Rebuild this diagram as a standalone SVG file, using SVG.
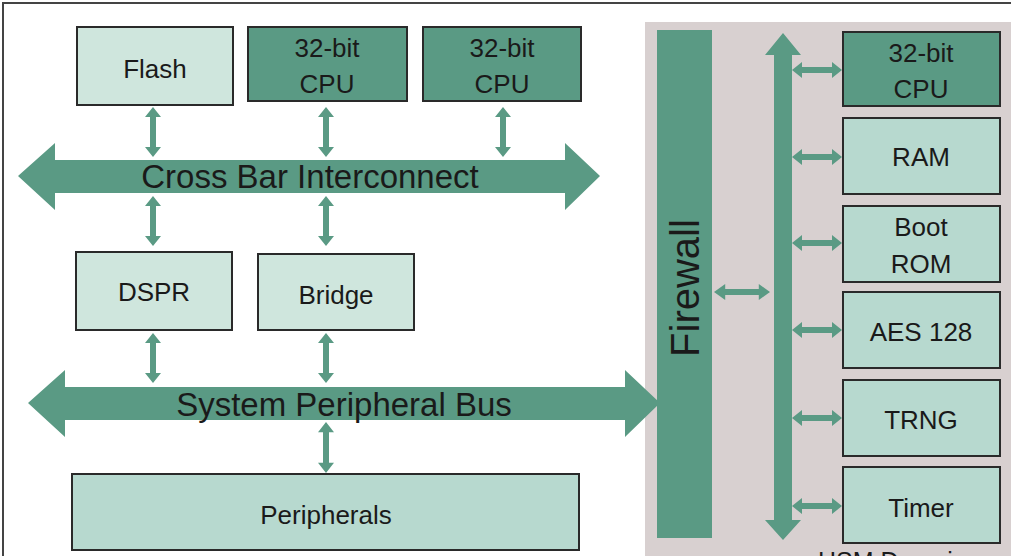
<svg xmlns="http://www.w3.org/2000/svg" width="1011" height="556" viewBox="0 0 1011 556">
<defs>
<style>
text{font-family:"Liberation Sans",Arial,sans-serif;fill:#1a1a1a;text-anchor:middle}
.l{fill:#cfe6dd;stroke:#2a2a2a;stroke-width:2}
.d{fill:#5a9a84;stroke:#2a2a2a;stroke-width:2}
.h{fill:#b7d9cf;stroke:#2a2a2a;stroke-width:2}
.a{fill:#5a9a84}
.t{font-size:26px}
.b{font-size:33px}
</style>
<symbol id="va" viewBox="0 0 16 50" preserveAspectRatio="none" overflow="visible"><path class="a" d="M8 0 L16 10 L11 10 L11 40 L16 40 L8 50 L0 40 L5 40 L5 10 L0 10 Z"/></symbol>
<symbol id="ha" viewBox="0 0 50 16" preserveAspectRatio="none" overflow="visible"><path class="a" d="M0 8 L10 0 L10 5 L40 5 L40 0 L50 8 L40 16 L40 11 L10 11 L10 16 Z"/></symbol>
</defs>
<rect x="0" y="0" width="1011" height="556" fill="#fff"/>
<rect x="3" y="3" width="1010" height="556" fill="none" stroke="#444" stroke-width="2"/>
<rect x="645" y="22" width="366" height="534" fill="#d8d0d0"/>
<g id="connectors">
<path class="a" d="M18 176 L55 143 L55 160 L565 160 L565 143 L600 176 L565 210 L565 193 L55 193 L55 210 Z"/>
<path class="a" d="M28 403 L65 370 L65 387 L625 387 L625 370 L660 403 L625 437 L625 420 L65 420 L65 437 Z"/>
<path class="a" d="M783 33 L801 55 L792 55 L792 520 L801 520 L783 540 L765 520 L774 520 L774 55 L765 55 Z"/>
<use href="#va" x="145" y="107" width="16" height="50"/>
<use href="#va" x="318" y="107" width="16" height="50"/>
<use href="#va" x="495" y="107" width="16" height="50"/>
<use href="#va" x="145" y="196" width="16" height="50"/>
<use href="#va" x="318" y="196" width="16" height="50"/>
<use href="#va" x="145" y="333" width="16" height="50"/>
<use href="#va" x="318" y="333" width="16" height="50"/>
<use href="#va" x="318" y="422" width="16" height="51"/>
<use href="#ha" x="714" y="284" width="56" height="16"/>
<use href="#ha" x="792" y="62" width="50" height="16"/>
<use href="#ha" x="792" y="149" width="50" height="16"/>
<use href="#ha" x="792" y="235" width="50" height="16"/>
<use href="#ha" x="792" y="322" width="50" height="16"/>
<use href="#ha" x="792" y="410" width="50" height="16"/>
<use href="#ha" x="792" y="498" width="50" height="16"/>
<text class="b" x="310" y="188">Cross Bar Interconnect</text>
<text class="b" x="344" y="416">System Peripheral Bus</text>
</g>
<g id="flash"><rect class="l" x="77" y="27" width="156" height="78"/><text class="t" x="155" y="78">Flash</text></g>
<g id="cpu1"><rect class="d" x="248" y="27" width="159" height="74"/><text class="t" x="327" y="57">32-bit</text><text class="t" x="327" y="93">CPU</text></g>
<g id="cpu2"><rect class="d" x="423" y="27" width="158" height="74"/><text class="t" x="502" y="57">32-bit</text><text class="t" x="502" y="93">CPU</text></g>
<g id="dspr"><rect class="l" x="76" y="252" width="156" height="78"/><text class="t" x="154" y="301">DSPR</text></g>
<g id="bridge"><rect class="l" x="258" y="254" width="156" height="76"/><text class="t" x="336" y="304">Bridge</text></g>
<g id="peripherals"><rect class="h" x="72" y="474" width="507" height="76"/><text class="t" x="326" y="524">Peripherals</text></g>
<g id="firewall"><rect class="a" x="657" y="30" width="55" height="508"/><text x="699" y="288" font-size="40" transform="rotate(-90 699 288)">Firewall</text></g>
<g id="hsmcpu"><rect class="d" x="843" y="32" width="157" height="74"/><text class="t" x="921" y="62">32-bit</text><text class="t" x="921" y="98">CPU</text></g>
<g id="ram"><rect class="h" x="843" y="118" width="157" height="76"/><text class="t" x="921" y="166">RAM</text></g>
<g id="bootrom"><rect class="h" x="843" y="206" width="157" height="76"/><text class="t" x="921" y="236">Boot</text><text class="t" x="921" y="273">ROM</text></g>
<g id="aes"><rect class="h" x="843" y="292" width="157" height="76"/><text class="t" x="921" y="341">AES 128</text></g>
<g id="trng"><rect class="h" x="843" y="380" width="157" height="76"/><text class="t" x="921" y="429">TRNG</text></g>
<g id="timer"><rect class="h" x="843" y="467" width="157" height="76"/><text class="t" x="921" y="517">Timer</text></g>
<text x="818" y="570" font-size="25" style="text-anchor:start">HSM Domain</text>
</svg>
